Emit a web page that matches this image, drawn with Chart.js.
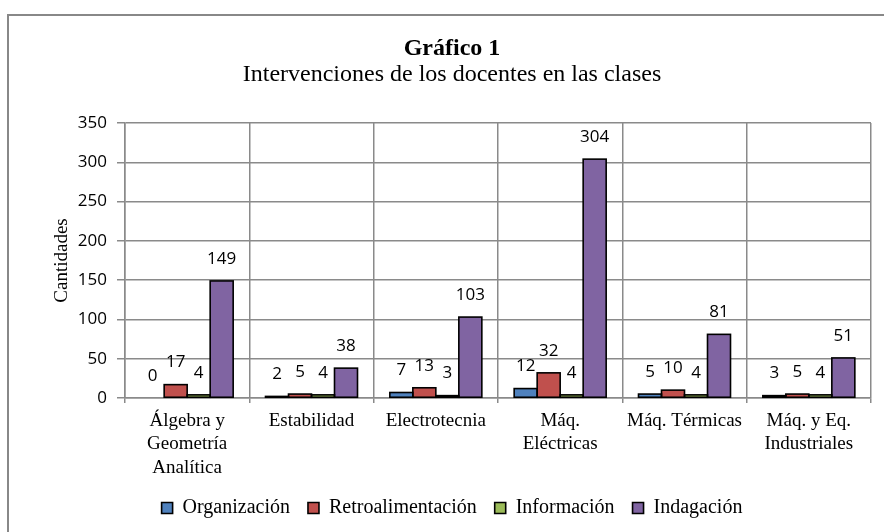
<!DOCTYPE html>
<html>
<head>
<meta charset="utf-8">
<script src="https://cdn.jsdelivr.net/npm/chart.js@4"></script>
<style>
  html, body { margin: 0; padding: 0; background: #fff; }
  #wrap { width: 884px; height: 532px; position: relative; }
</style>
</head>
<body>
<div id="wrap"><canvas id="c" width="884" height="532"></canvas></div>
<script>
const categories = [
  ['Álgebra y', 'Geometría', 'Analítica'],
  'Estabilidad',
  'Electrotecnia',
  ['Máq.', 'Eléctricas'],
  'Máq. Térmicas',
  ['Máq. y Eq.', 'Industriales']
];
const organizacion = [0, 2, 7, 12, 5, 3];
const retroalimentacion = [17, 5, 13, 32, 10, 5];
const informacion = [4, 4, 3, 4, 4, 4];
const indagacion = [149, 38, 103, 304, 81, 51];
const seriesNames = ['Organización', 'Retroalimentación', 'Información', 'Indagación'];
const seriesColors = ['#4F81BD', '#C0504D', '#9BBB59', '#8064A2'];
const yTicks = [0, 50, 100, 150, 200, 250, 300, 350];

const serif = "'Liberation Serif', 'Times New Roman', serif";
const sans = "'Open Sans', 'Noto Sans', sans-serif";

const borderPlugin = {
  id: 'outerBorder',
  beforeDraw(chart) {
    const ctx = chart.ctx;
    ctx.save();
    ctx.fillStyle = '#ffffff';
    ctx.fillRect(0, 0, chart.width, chart.height);
    ctx.strokeStyle = '#888888';
    ctx.lineWidth = 2;
    ctx.strokeRect(8, 15, 1000, 1000);
    ctx.restore();
  }
};

const barOutlineAndLabels = {
  id: 'barOutlineAndLabels',
  afterDatasetsDraw(chart) {
    const ctx = chart.ctx;
    ctx.save();
    ctx.strokeStyle = '#000';
    ctx.lineWidth = 1.6;
    chart.data.datasets.forEach((ds, i) => {
      const meta = chart.getDatasetMeta(i);
      meta.data.forEach((bar) => {
        const p = bar.getProps(['x', 'y', 'base', 'width'], true);
        const h = p.base - p.y;
        if (h > 0.5) {
          ctx.strokeRect(p.x - p.width / 2, p.y, p.width, h);
        }
      });
    });
    ctx.font = "17px " + sans;
    ctx.fillStyle = '#000';
    ctx.textAlign = 'center';
    ctx.textBaseline = 'middle';
    chart.data.datasets.forEach((ds, i) => {
      const meta = chart.getDatasetMeta(i);
      meta.data.forEach((bar, j) => {
        ctx.fillText(String(ds.data[j]), bar.x, bar.y - 22);
      });
    });
    ctx.restore();
  }
};

const dataSeries = [organizacion, retroalimentacion, informacion, indagacion];

new Chart(document.getElementById('c'), {
  type: 'bar',
  data: {
    labels: categories,
    datasets: dataSeries.map((d, i) => ({
      label: seriesNames[i],
      data: d,
      backgroundColor: seriesColors[i],
      borderWidth: 0
    }))
  },
  options: {
    responsive: false,
    animation: false,
    devicePixelRatio: 1,
    layout: { padding: { top: 20, left: 33, right: 13, bottom: 4 } },
    datasets: { bar: { barPercentage: 1, categoryPercentage: 0.74 } },
    plugins: {
      tooltip: { enabled: false },
      title: {
        display: true,
        text: 'Gráfico 1',
        color: '#000',
        font: { family: serif, size: 24, weight: 'bold', lineHeight: 1.0 },
        padding: { top: 17, bottom: 0 }
      },
      subtitle: {
        display: true,
        text: 'Intervenciones de los docentes en las clases',
        color: '#000',
        font: { family: serif, size: 24, lineHeight: 1.0 },
        padding: { top: 2, bottom: 36 }
      },
      legend: {
        position: 'bottom',
        labels: {
          color: '#000',
          font: { family: serif, size: 20 },
          boxWidth: 11,
          boxHeight: 11,
          padding: 18,
          generateLabels(chart) {
            const items = Chart.defaults.plugins.legend.labels.generateLabels(chart);
            items.forEach(it => { it.lineWidth = 1.6; it.strokeStyle = '#000'; });
            return items;
          }
        }
      }
    },
    scales: {
      x: {
        grid: { color: '#8a8a8a', lineWidth: 1.5, offset: true, tickLength: 5 },
        border: { color: '#8a8a8a', width: 1.5 },
        ticks: {
          color: '#000',
          font: { family: serif, size: 19, lineHeight: 1.24 },
          padding: 6,
          maxRotation: 0,
          autoSkip: false
        },
        afterFit(scale) { scale.height = 82; }
      },
      y: {
        min: 0,
        max: 350,
        afterBuildTicks(scale) { scale.ticks = yTicks.map(v => ({ value: v })); },
        grid: { color: '#8a8a8a', lineWidth: 1.5, tickLength: 8 },
        border: { color: '#8a8a8a', width: 1.5 },
        ticks: {
          color: '#000',
          font: { family: sans, size: 17 },
          padding: 10
        },
        title: {
          display: true,
          text: 'Cantidades',
          color: '#000',
          font: { family: serif, size: 19, lineHeight: 1.2 },
          padding: { top: 17.5, bottom: 0 }
        },
        afterFit(scale) { scale.width = 92; }
      }
    }
  },
  plugins: [borderPlugin, barOutlineAndLabels]
});
</script>
</body>
</html>
